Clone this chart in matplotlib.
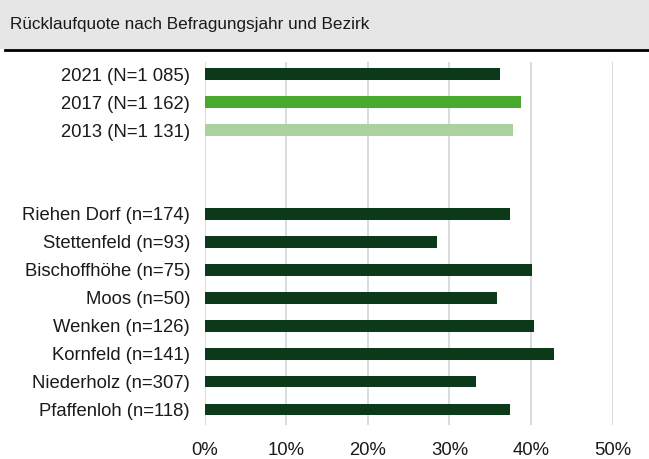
import matplotlib.pyplot as plt
from matplotlib.patches import Rectangle
from matplotlib.lines import Line2D

plt.rcParams['font.family'] = ['Liberation Sans', 'DejaVu Sans']

# ------- data
labels = ['2021 (N=1 085)', '2017 (N=1 162)', '2013 (N=1 131)', '', '',
          'Riehen Dorf (n=174)', 'Stettenfeld (n=93)', 'Bischoffhöhe (n=75)',
          'Moos (n=50)', 'Wenken (n=126)', 'Kornfeld (n=141)',
          'Niederholz (n=307)', 'Pfaffenloh (n=118)']
values = [36.2, 38.8, 37.8, None, None,
          37.4, 28.5, 40.1, 35.8, 40.4, 42.8, 33.3, 37.4]
dark = '#0b3a1a'
colors = [dark, '#48aa2d', '#abd19f', None, None] + [dark] * 8
xticks = [0, 10, 20, 30, 40, 50]

fig = plt.figure(figsize=(6.49, 4.59), dpi=100)

# title band
fig.patches.append(Rectangle((0, 1 - 49 / 459), 1, 49 / 459, transform=fig.transFigure,
                             facecolor='#e6e6e6', edgecolor='none', zorder=0))
fig.lines.append(Line2D([5 / 649, 1], [1 - 50 / 459, 1 - 50 / 459], transform=fig.transFigure,
                        color='black', linewidth=2))
fig.text(10 / 649, 1 - 25 / 459, 'Rücklaufquote nach Befragungsjahr und Bezirk',
         fontsize=12.3, va='center', ha='left', color='#1a1a1a')

ax = fig.add_axes([204.7 / 649, 1 - 425 / 459, (612.6 - 204.7) / 649, (425 - 62) / 459])

for i, (v, c) in enumerate(zip(values, colors)):
    if v is None:
        continue
    ax.barh(i, v, height=0.4, color=c, zorder=3)

ax.set_xlim(0, 50)
ax.set_ylim(12.54, -0.43)
ax.set_yticks(range(len(labels)))
ax.set_yticklabels(labels, fontsize=13.3, color='#1a1a1a')
ax.set_xticks(xticks)
ax.set_xticklabels([f'{t}%' for t in xticks], fontsize=13.3, color='#1a1a1a')
ax.tick_params(axis='both', length=0)
ax.tick_params(axis='y', pad=10.5)
ax.tick_params(axis='x', pad=12.5)
ax.grid(True, axis='x', color='#cdd6dd', linewidth=1.2, zorder=0)
for s in ax.spines.values():
    s.set_visible(False)

fig.savefig('out.png', dpi=100)
